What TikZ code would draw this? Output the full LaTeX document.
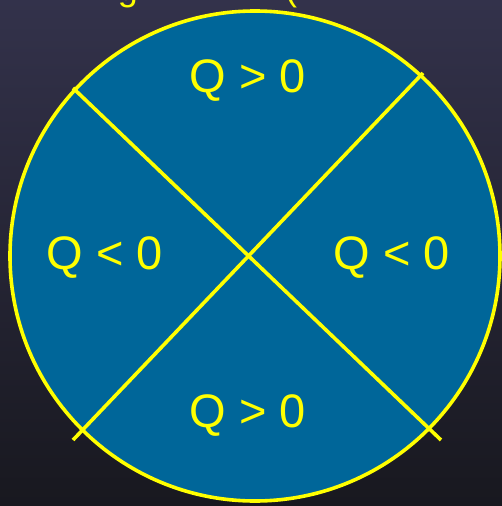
\documentclass[tikz,border=0pt]{standalone}
\usepackage{fontspec}
\setmainfont{Liberation Sans}
\definecolor{bgtop}{HTML}{33324B}
\definecolor{bgbot}{HTML}{18181F}
\definecolor{disc}{HTML}{006699}
\definecolor{rim}{HTML}{FFFF00}
\begin{document}
\begin{tikzpicture}[
    x=1pt, y=-1pt,
    every node/.style={text=rim, inner sep=0pt},
    sign/.style={font=\fontsize{47}{56}\selectfont},
    cut/.style={font=\fontsize{36}{42}\selectfont, anchor=base},
    divider/.style={draw=rim, line width=3.6pt},
]
\useasboundingbox (0,0) rectangle (502,506);

% ===== Background =====
\shade[top color=bgtop, bottom color=bgbot] (0,0) rectangle (502,506);

% title line, cut off by the page edge
\node[cut] (titleg) at (128,1) {g};
\node[cut] (titlep) at (291,0) {(};

% ===== Disc =====
\coordinate (ctr) at (255,256);
\fill[disc] (ctr) circle[radius=245];

% ===== Dividers =====
\coordinate (nw) at (73,88);
\coordinate (se) at (441,440);
\coordinate (ne) at (423,73);
\coordinate (sw) at (73,440);
\draw[divider] (nw) -- (se);
\draw[divider] (ne) -- (sw);

% rim
\draw[divider] (ctr) circle[radius=245];

% ===== Sign labels =====
\node[sign] (top)   at (248,81)  {Q > 0};
\node[sign] (left)  at (105,258) {Q < 0};
\node[sign] (right) at (392,258) {Q < 0};
\node[sign] (bot)   at (248,416) {Q > 0};

\end{tikzpicture}
\end{document}
